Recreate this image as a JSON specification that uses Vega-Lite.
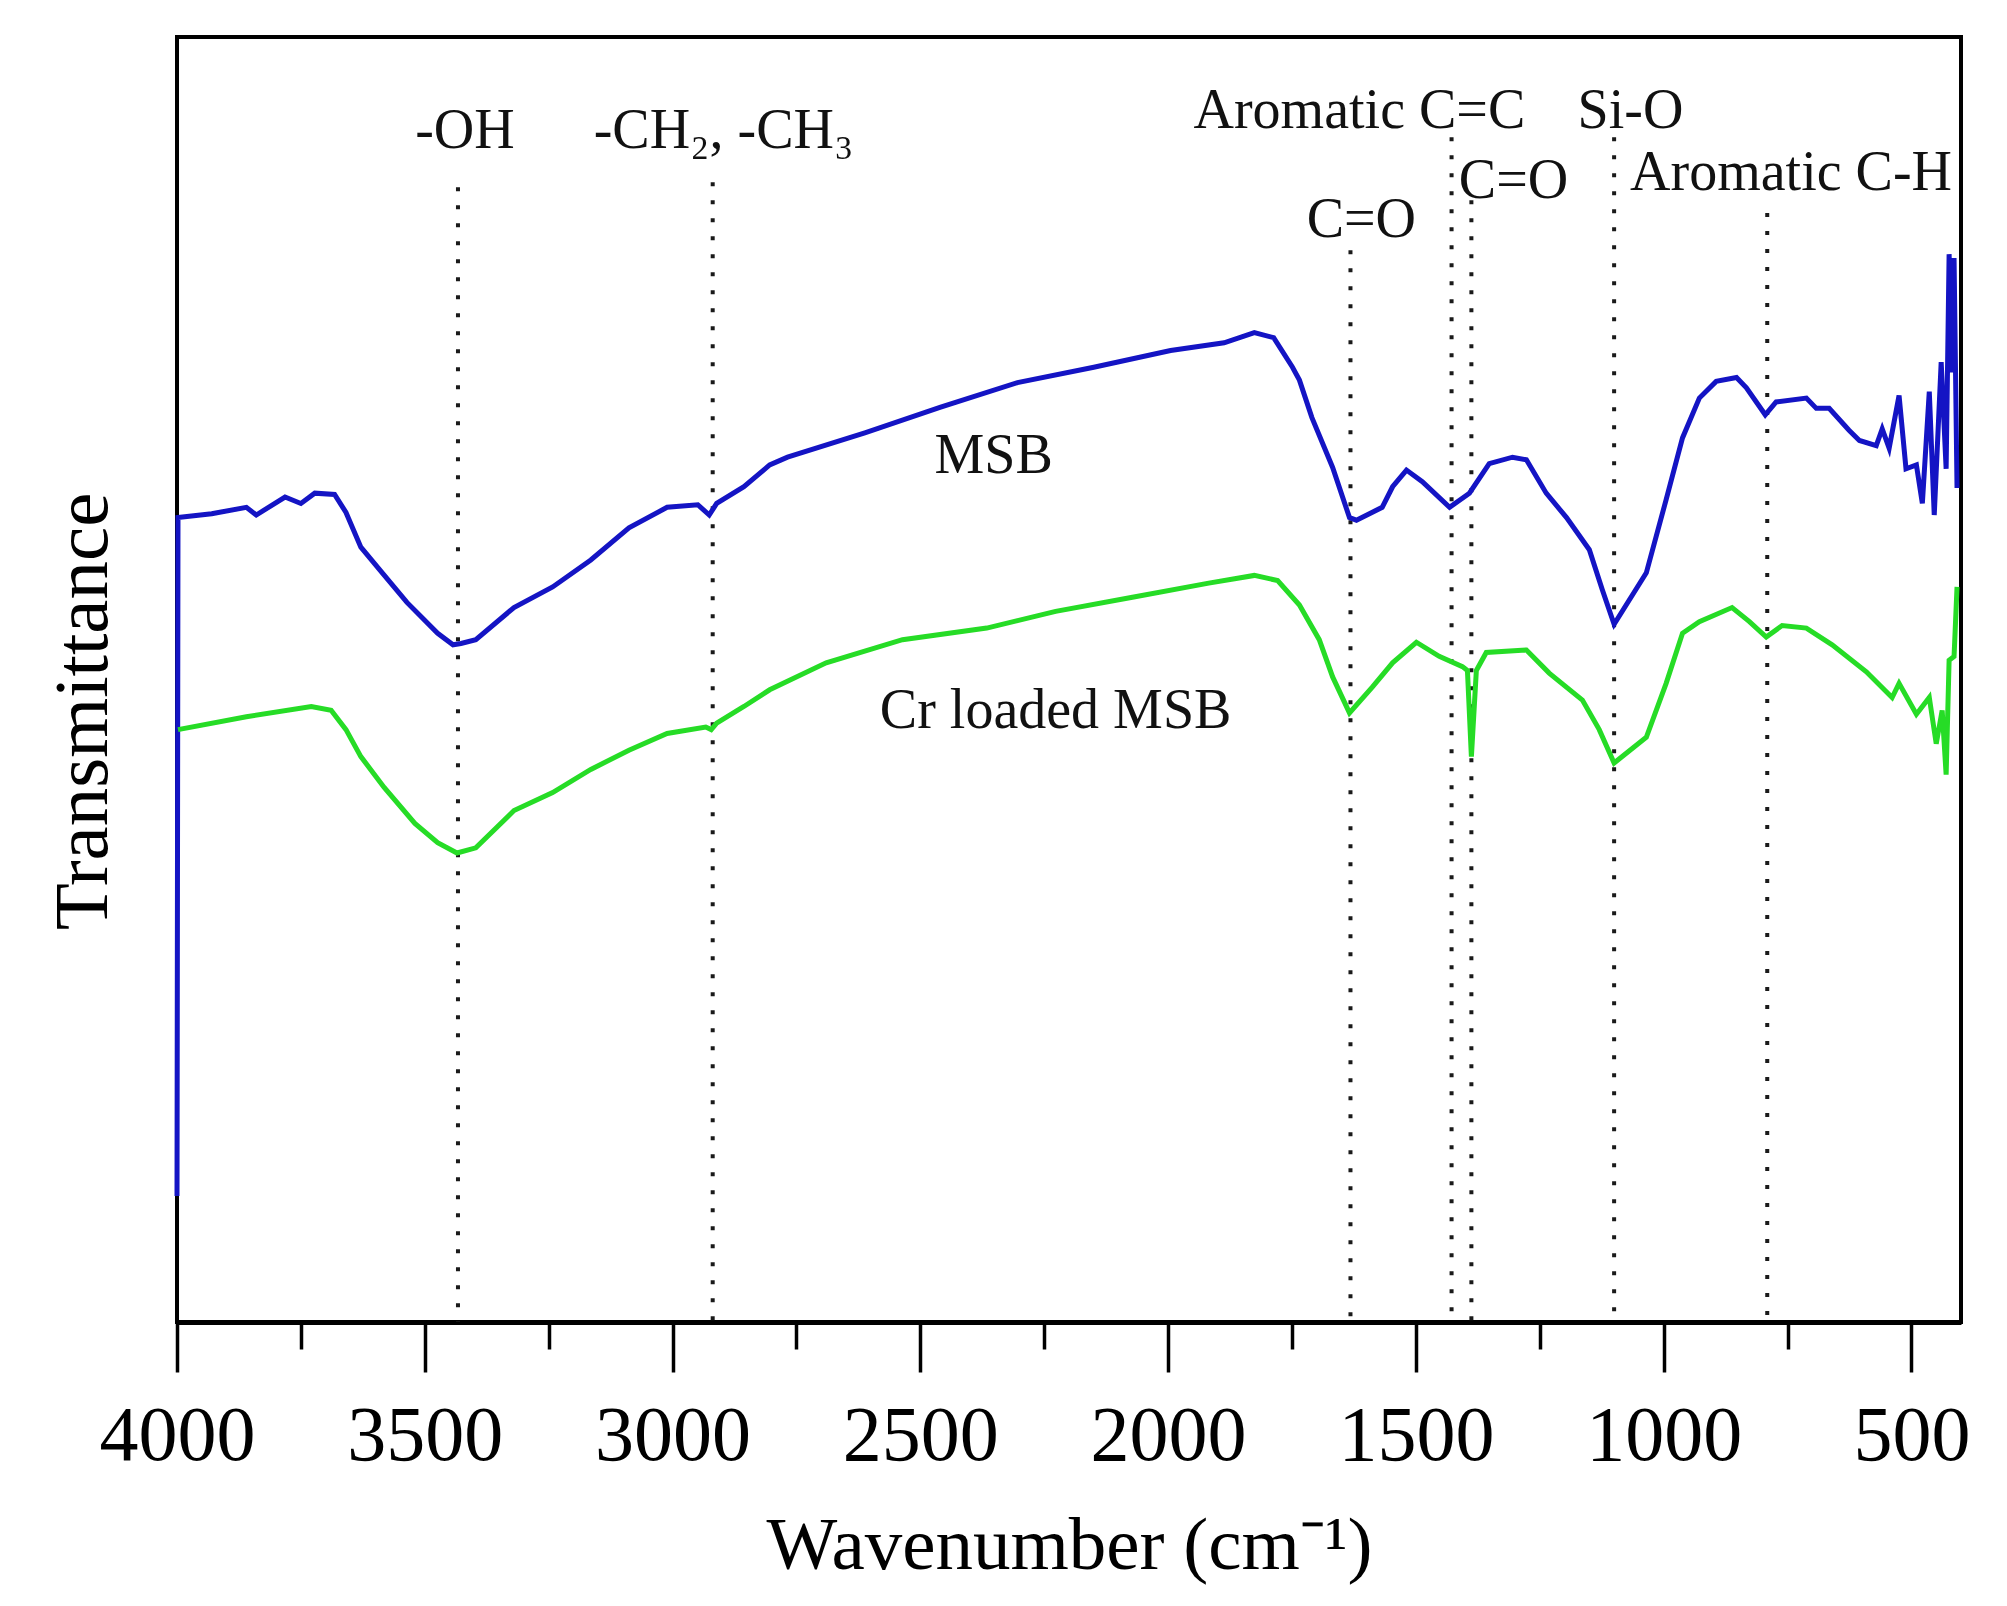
{
  "$schema": "https://vega.github.io/schema/vega-lite/v6.json",
  "width": 1784,
  "height": 1285,
  "autosize": {"type": "none"},
  "padding": {"left": 177, "top": 37, "right": 46, "bottom": 284},
  "background": "white",
  "config": {
    "view": {"stroke": "black", "strokeWidth": 4},
    "font": "Liberation Serif",
    "text": {"font": "Liberation Serif"}
  },
  "datasets": {
    "spectra": [
      {"sample": "MSB", "w": 4000, "v": 9.8},
      {"sample": "MSB", "w": 3998, "v": 62.6},
      {"sample": "MSB", "w": 3930, "v": 62.9},
      {"sample": "MSB", "w": 3860, "v": 63.4},
      {"sample": "MSB", "w": 3840, "v": 62.8},
      {"sample": "MSB", "w": 3782, "v": 64.2},
      {"sample": "MSB", "w": 3750, "v": 63.7},
      {"sample": "MSB", "w": 3722, "v": 64.5},
      {"sample": "MSB", "w": 3682, "v": 64.4},
      {"sample": "MSB", "w": 3659, "v": 63.0},
      {"sample": "MSB", "w": 3629, "v": 60.3},
      {"sample": "MSB", "w": 3590, "v": 58.5},
      {"sample": "MSB", "w": 3536, "v": 56.0},
      {"sample": "MSB", "w": 3474, "v": 53.6},
      {"sample": "MSB", "w": 3443, "v": 52.7},
      {"sample": "MSB", "w": 3427, "v": 52.8},
      {"sample": "MSB", "w": 3397, "v": 53.1},
      {"sample": "MSB", "w": 3320, "v": 55.6},
      {"sample": "MSB", "w": 3242, "v": 57.2},
      {"sample": "MSB", "w": 3165, "v": 59.3},
      {"sample": "MSB", "w": 3088, "v": 61.8},
      {"sample": "MSB", "w": 3011, "v": 63.4},
      {"sample": "MSB", "w": 2949, "v": 63.6},
      {"sample": "MSB", "w": 2926, "v": 62.8},
      {"sample": "MSB", "w": 2911, "v": 63.7},
      {"sample": "MSB", "w": 2856, "v": 65.0},
      {"sample": "MSB", "w": 2804, "v": 66.7},
      {"sample": "MSB", "w": 2768, "v": 67.3},
      {"sample": "MSB", "w": 2612, "v": 69.2},
      {"sample": "MSB", "w": 2459, "v": 71.2},
      {"sample": "MSB", "w": 2304, "v": 73.1},
      {"sample": "MSB", "w": 2150, "v": 74.3},
      {"sample": "MSB", "w": 1995, "v": 75.6},
      {"sample": "MSB", "w": 1887, "v": 76.2},
      {"sample": "MSB", "w": 1826, "v": 77.0},
      {"sample": "MSB", "w": 1787, "v": 76.6},
      {"sample": "MSB", "w": 1749, "v": 74.3},
      {"sample": "MSB", "w": 1735, "v": 73.3},
      {"sample": "MSB", "w": 1710, "v": 70.4},
      {"sample": "MSB", "w": 1668, "v": 66.5},
      {"sample": "MSB", "w": 1634, "v": 62.6},
      {"sample": "MSB", "w": 1620, "v": 62.4},
      {"sample": "MSB", "w": 1568, "v": 63.4},
      {"sample": "MSB", "w": 1547, "v": 65.0},
      {"sample": "MSB", "w": 1519, "v": 66.3},
      {"sample": "MSB", "w": 1487, "v": 65.4},
      {"sample": "MSB", "w": 1432, "v": 63.4},
      {"sample": "MSB", "w": 1392, "v": 64.5},
      {"sample": "MSB", "w": 1352, "v": 66.8},
      {"sample": "MSB", "w": 1305, "v": 67.3},
      {"sample": "MSB", "w": 1277, "v": 67.1},
      {"sample": "MSB", "w": 1237, "v": 64.5},
      {"sample": "MSB", "w": 1196, "v": 62.6},
      {"sample": "MSB", "w": 1150, "v": 60.1},
      {"sample": "MSB", "w": 1124, "v": 57.0},
      {"sample": "MSB", "w": 1100, "v": 54.3},
      {"sample": "MSB", "w": 1035, "v": 58.3},
      {"sample": "MSB", "w": 995, "v": 64.0},
      {"sample": "MSB", "w": 962, "v": 68.8},
      {"sample": "MSB", "w": 928, "v": 71.9},
      {"sample": "MSB", "w": 894, "v": 73.2},
      {"sample": "MSB", "w": 853, "v": 73.5},
      {"sample": "MSB", "w": 833, "v": 72.7},
      {"sample": "MSB", "w": 795, "v": 70.6},
      {"sample": "MSB", "w": 773, "v": 71.6},
      {"sample": "MSB", "w": 712, "v": 71.9},
      {"sample": "MSB", "w": 692, "v": 71.1},
      {"sample": "MSB", "w": 666, "v": 71.1},
      {"sample": "MSB", "w": 626, "v": 69.4},
      {"sample": "MSB", "w": 605, "v": 68.6},
      {"sample": "MSB", "w": 571, "v": 68.2},
      {"sample": "MSB", "w": 559, "v": 69.5},
      {"sample": "MSB", "w": 545, "v": 68.0},
      {"sample": "MSB", "w": 525, "v": 72.1},
      {"sample": "MSB", "w": 511, "v": 66.4},
      {"sample": "MSB", "w": 490, "v": 66.7},
      {"sample": "MSB", "w": 478, "v": 63.7},
      {"sample": "MSB", "w": 464, "v": 72.4},
      {"sample": "MSB", "w": 454, "v": 62.8},
      {"sample": "MSB", "w": 440, "v": 74.7},
      {"sample": "MSB", "w": 430, "v": 66.4},
      {"sample": "MSB", "w": 424, "v": 83.1},
      {"sample": "MSB", "w": 418, "v": 73.9},
      {"sample": "MSB", "w": 414, "v": 82.8},
      {"sample": "MSB", "w": 408, "v": 64.9},
      {"sample": "Cr loaded MSB", "w": 3998, "v": 46.1},
      {"sample": "Cr loaded MSB", "w": 3860, "v": 47.1},
      {"sample": "Cr loaded MSB", "w": 3729, "v": 47.9},
      {"sample": "Cr loaded MSB", "w": 3689, "v": 47.6},
      {"sample": "Cr loaded MSB", "w": 3659, "v": 46.1},
      {"sample": "Cr loaded MSB", "w": 3629, "v": 44.0},
      {"sample": "Cr loaded MSB", "w": 3582, "v": 41.6},
      {"sample": "Cr loaded MSB", "w": 3520, "v": 38.8},
      {"sample": "Cr loaded MSB", "w": 3474, "v": 37.3},
      {"sample": "Cr loaded MSB", "w": 3435, "v": 36.5},
      {"sample": "Cr loaded MSB", "w": 3397, "v": 36.9},
      {"sample": "Cr loaded MSB", "w": 3320, "v": 39.8},
      {"sample": "Cr loaded MSB", "w": 3242, "v": 41.2},
      {"sample": "Cr loaded MSB", "w": 3165, "v": 43.0},
      {"sample": "Cr loaded MSB", "w": 3088, "v": 44.5},
      {"sample": "Cr loaded MSB", "w": 3011, "v": 45.8},
      {"sample": "Cr loaded MSB", "w": 2933, "v": 46.3},
      {"sample": "Cr loaded MSB", "w": 2922, "v": 46.1},
      {"sample": "Cr loaded MSB", "w": 2911, "v": 46.6},
      {"sample": "Cr loaded MSB", "w": 2856, "v": 47.9},
      {"sample": "Cr loaded MSB", "w": 2804, "v": 49.2},
      {"sample": "Cr loaded MSB", "w": 2690, "v": 51.3},
      {"sample": "Cr loaded MSB", "w": 2536, "v": 53.1},
      {"sample": "Cr loaded MSB", "w": 2366, "v": 54.0},
      {"sample": "Cr loaded MSB", "w": 2227, "v": 55.3},
      {"sample": "Cr loaded MSB", "w": 2072, "v": 56.4},
      {"sample": "Cr loaded MSB", "w": 1918, "v": 57.5},
      {"sample": "Cr loaded MSB", "w": 1826, "v": 58.1},
      {"sample": "Cr loaded MSB", "w": 1779, "v": 57.7},
      {"sample": "Cr loaded MSB", "w": 1735, "v": 55.8},
      {"sample": "Cr loaded MSB", "w": 1695, "v": 53.1},
      {"sample": "Cr loaded MSB", "w": 1668, "v": 50.2},
      {"sample": "Cr loaded MSB", "w": 1634, "v": 47.4},
      {"sample": "Cr loaded MSB", "w": 1588, "v": 49.4},
      {"sample": "Cr loaded MSB", "w": 1547, "v": 51.3},
      {"sample": "Cr loaded MSB", "w": 1499, "v": 52.9},
      {"sample": "Cr loaded MSB", "w": 1453, "v": 51.8},
      {"sample": "Cr loaded MSB", "w": 1406, "v": 51.0},
      {"sample": "Cr loaded MSB", "w": 1396, "v": 50.7},
      {"sample": "Cr loaded MSB", "w": 1388, "v": 44.0},
      {"sample": "Cr loaded MSB", "w": 1378, "v": 50.7},
      {"sample": "Cr loaded MSB", "w": 1358, "v": 52.1},
      {"sample": "Cr loaded MSB", "w": 1277, "v": 52.3},
      {"sample": "Cr loaded MSB", "w": 1231, "v": 50.5},
      {"sample": "Cr loaded MSB", "w": 1164, "v": 48.4},
      {"sample": "Cr loaded MSB", "w": 1130, "v": 46.1},
      {"sample": "Cr loaded MSB", "w": 1100, "v": 43.5},
      {"sample": "Cr loaded MSB", "w": 1035, "v": 45.5},
      {"sample": "Cr loaded MSB", "w": 995, "v": 49.7},
      {"sample": "Cr loaded MSB", "w": 962, "v": 53.6},
      {"sample": "Cr loaded MSB", "w": 928, "v": 54.5},
      {"sample": "Cr loaded MSB", "w": 862, "v": 55.6},
      {"sample": "Cr loaded MSB", "w": 827, "v": 54.5},
      {"sample": "Cr loaded MSB", "w": 793, "v": 53.3},
      {"sample": "Cr loaded MSB", "w": 761, "v": 54.2},
      {"sample": "Cr loaded MSB", "w": 712, "v": 54.0},
      {"sample": "Cr loaded MSB", "w": 660, "v": 52.7},
      {"sample": "Cr loaded MSB", "w": 591, "v": 50.6},
      {"sample": "Cr loaded MSB", "w": 539, "v": 48.6},
      {"sample": "Cr loaded MSB", "w": 525, "v": 49.7},
      {"sample": "Cr loaded MSB", "w": 490, "v": 47.3},
      {"sample": "Cr loaded MSB", "w": 464, "v": 48.6},
      {"sample": "Cr loaded MSB", "w": 450, "v": 45.0},
      {"sample": "Cr loaded MSB", "w": 438, "v": 47.6},
      {"sample": "Cr loaded MSB", "w": 430, "v": 42.6},
      {"sample": "Cr loaded MSB", "w": 424, "v": 51.5},
      {"sample": "Cr loaded MSB", "w": 414, "v": 51.8},
      {"sample": "Cr loaded MSB", "w": 408, "v": 57.2}
    ],
    "peaks": [
      {"w": 3433, "v": 88.3},
      {"w": 2919, "v": 88.7},
      {"w": 1632, "v": 83.4},
      {"w": 1428, "v": 92.2},
      {"w": 1388, "v": 87.3},
      {"w": 1100, "v": 92.2},
      {"w": 791, "v": 86.3}
    ],
    "labels": [
      {"text": "-OH", "w": 3419, "v": 91.4},
      {"text": "-CH₂, -CH₃", "w": 2897, "v": 91.4},
      {"text": "Aromatic C=C", "w": 1614, "v": 92.9},
      {"text": "Si-O", "w": 1067, "v": 92.9},
      {"text": "C=O", "w": 1303, "v": 87.5},
      {"text": "Aromatic C-H", "w": 743, "v": 88.1},
      {"text": "C=O", "w": 1610, "v": 84.4},
      {"text": "MSB", "w": 2352, "v": 66.1},
      {"text": "Cr loaded MSB", "w": 2227, "v": 46.2}
    ]
  },
  "encoding": {
    "x": {
      "field": "w",
      "type": "quantitative",
      "scale": {"domain": [400, 4000], "reverse": true, "nice": false, "zero": false},
      "axis": {
        "title": "Wavenumber (cm⁻¹)",
        "values": [4000, 3750, 3500, 3250, 3000, 2750, 2500, 2250, 2000, 1750, 1500, 1250, 1000, 750, 500],
        "format": "d",
        "labelExpr": "datum.value % 500 === 0 ? datum.label : ''",
        "grid": false,
        "domainColor": "black",
        "domainWidth": 5,
        "tickColor": "black",
        "tickWidth": 3.5,
        "tickSize": {"condition": {"test": "datum.value % 500 === 0", "value": 50}, "value": 27},
        "labelFont": "Liberation Serif",
        "labelFontSize": 78,
        "labelColor": "black",
        "labelPadding": 25,
        "labelFlush": false,
        "labelOverlap": false,
        "titleFont": "Liberation Serif",
        "titleFontSize": 75,
        "titleFontWeight": "normal",
        "titleColor": "black",
        "titlePadding": 34
      }
    },
    "y": {
      "field": "v",
      "type": "quantitative",
      "scale": {"domain": [0, 100], "nice": false},
      "axis": {
        "title": "Transmittance",
        "domain": false,
        "ticks": false,
        "labels": false,
        "grid": false,
        "titleFont": "Liberation Serif",
        "titleFontSize": 77,
        "titleFontWeight": "normal",
        "titleColor": "black",
        "titlePadding": 55,
        "titleY": 674
      }
    }
  },
  "layer": [
    {
      "data": {"name": "peaks"},
      "mark": {"type": "rule", "color": "#1a1a1a", "strokeWidth": 4, "strokeDash": [4, 14]},
      "encoding": {
        "y2": {"datum": 0}
      }
    },
    {
      "data": {"name": "spectra"},
      "mark": {"type": "line", "strokeWidth": 5, "interpolate": "linear"},
      "encoding": {
        "color": {
          "field": "sample",
          "type": "nominal",
          "scale": {"domain": ["MSB", "Cr loaded MSB"], "range": ["#1414c4", "#26dc26"]},
          "legend": null
        },
        "detail": {"field": "sample"}
      }
    },
    {
      "data": {"name": "labels"},
      "mark": {"type": "text", "font": "Liberation Serif", "fontSize": 56, "color": "#111", "align": "center", "baseline": "alphabetic"},
      "encoding": {
        "text": {"field": "text"}
      }
    }
  ]
}
